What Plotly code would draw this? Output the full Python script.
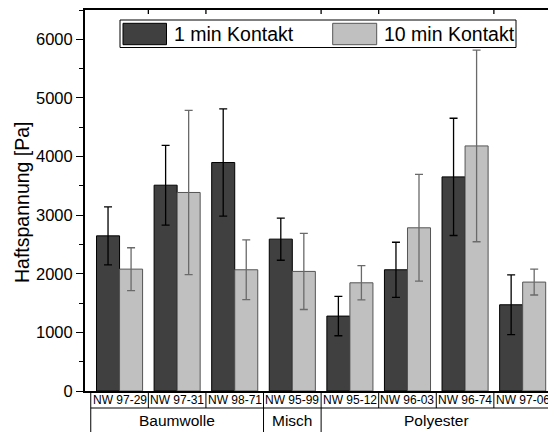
import plotly.graph_objects as go

# ---- data ----
categories = ["NW 97-29", "NW 97-31", "NW 98-71", "NW 95-99",
              "NW 95-12", "NW 96-03", "NW 96-74", "NW 97-06"]
groups = ["Baumwolle", "Misch", "Polyester"]
group_sizes = [3, 1, 4]
series_names = ["1 min Kontakt", "10 min Kontakt"]
one_min = [2647, 3511, 3898, 2591, 1278, 2068, 3653, 1471]
one_min_err = [495, 680, 915, 360, 335, 470, 1000, 510]
ten_min = [2079, 3387, 2068, 2040, 1846, 2784, 4181, 1858]
ten_min_err = [365, 1400, 510, 650, 292, 910, 1635, 220]
y_ticks = [0, 1000, 2000, 3000, 4000, 5000, 6000]

DARK = "#404040"
LIGHT = "#c0c0c0"
FONT = "Liberation Sans, Arial, sans-serif"

W, H = 548, 432
L, R, T, B = 85, 0, 10, 41
PW, PH = W - L - R, H - T - B


def px(x):  # pixel x -> paper
    return (x - L) / PW


def py(y):  # pixel y -> paper
    return (H - B - y) / PH


xs = list(range(len(categories)))

fig = go.Figure()
fig.add_trace(go.Bar(
    x=xs, y=one_min, name=series_names[0],
    marker=dict(color=DARK, line=dict(color="#000000", width=1)),
    error_y=dict(type="data", array=one_min_err, color="#000000",
                 thickness=1.3, width=4),
))
fig.add_trace(go.Bar(
    x=xs, y=ten_min, name=series_names[1],
    marker=dict(color=LIGHT, line=dict(color="#555555", width=1)),
    error_y=dict(type="data", array=ten_min_err, color="#6a6a6a",
                 thickness=1.3, width=4),
))

shapes = []
# top axis ticks (inward) at some category boundaries
for b in [0.5, 1.5, 3.5, 4.5, 6.5]:
    shapes.append(dict(type="line", xref="x", yref="paper", x0=b, x1=b,
                       y0=1, y1=1 - 4 / PH, line=dict(color="black", width=1.3)))

# category table row 1
y_row1_bot = py(408)
y_bottom = py(440)
n = len(categories)
for i in range(n + 1):
    b = i - 0.5
    shapes.append(dict(type="line", xref="x", yref="paper", x0=b, x1=b,
                       y0=0, y1=y_row1_bot, line=dict(color="black", width=1)))
shapes.append(dict(type="line", xref="x", yref="paper", x0=-0.5, x1=n - 0.5,
                   y0=y_row1_bot, y1=y_row1_bot, line=dict(color="black", width=1)))
# group row separators
acc = 0
bounds = [-0.5]
for s in group_sizes:
    acc += s
    bounds.append(acc - 0.5)
for b in bounds:
    shapes.append(dict(type="line", xref="x", yref="paper", x0=b, x1=b,
                       y0=y_row1_bot, y1=y_bottom, line=dict(color="black", width=1)))

# legend box
shapes.append(dict(type="rect", xref="paper", yref="paper",
                   x0=px(120), x1=px(516), y0=py(47.5), y1=py(20),
                   fillcolor="white", line=dict(color="black", width=1), layer="above"))
shapes.append(dict(type="rect", xref="paper", yref="paper",
                   x0=px(123), x1=px(166.5), y0=py(44.7), y1=py(23.3),
                   fillcolor=DARK, line=dict(color="black", width=1), layer="above"))
shapes.append(dict(type="rect", xref="paper", yref="paper",
                   x0=px(332.7), x1=px(376.7), y0=py(44.7), y1=py(23.3),
                   fillcolor=LIGHT, line=dict(color="#555555", width=1), layer="above"))

annotations = []
annotations.append(dict(text=series_names[0], xref="paper", yref="paper",
                        x=px(172), y=py(34), xanchor="left", yanchor="middle",
                        showarrow=False, font=dict(family=FONT, size=19.5, color="black")))
annotations.append(dict(text=series_names[1], xref="paper", yref="paper",
                        x=px(382), y=py(34), xanchor="left", yanchor="middle",
                        showarrow=False, font=dict(family=FONT, size=19.5, color="black")))
for i, c in enumerate(categories):
    annotations.append(dict(text=c, xref="x", yref="paper", x=i, y=py(400),
                            xanchor="center", yanchor="middle", showarrow=False,
                            font=dict(family=FONT, size=12, color="black")))
acc = 0
for g, s in zip(groups, group_sizes):
    center = acc + (s - 1) / 2
    acc += s
    annotations.append(dict(text=g, xref="x", yref="paper", x=center, y=py(420.5),
                            xanchor="center", yanchor="middle", showarrow=False,
                            font=dict(family=FONT, size=15.5, color="black")))
annotations.append(dict(text="Haftspannung [Pa]", xref="paper", yref="paper",
                        x=px(22), y=py(202), xanchor="center", yanchor="middle",
                        textangle=-90, showarrow=False,
                        font=dict(family=FONT, size=19.5, color="black")))

fig.update_layout(
    width=W, height=H,
    margin=dict(l=L, r=R, t=T, b=B, pad=0),
    paper_bgcolor="white", plot_bgcolor="white",
    barmode="group", bargap=0.2, bargroupgap=0,
    showlegend=False,
    shapes=shapes, annotations=annotations,
    font=dict(family=FONT, color="black"),
    xaxis=dict(range=[-0.6, 7.44], showticklabels=False, ticks="",
               showgrid=False, zeroline=False, showline=True, linecolor="black",
               linewidth=2, mirror=True),
    yaxis=dict(range=[0, 6500], tickvals=y_ticks, ticks="outside", ticklen=7,
               tickwidth=1.3, tickcolor="black", showgrid=False, zeroline=False,
               showline=True, linecolor="black", linewidth=2,
               tickfont=dict(family=FONT, size=16.5, color="black"),
               minor=dict(dtick=500, ticks="outside", ticklen=4, tickwidth=1.3,
                          tickcolor="black", showgrid=False)),
)

fig.write_html(
    "out.html",
    config={"displayModeBar": False},
    post_script="document.body.style.margin='0px';document.body.style.overflow='hidden';",
)
